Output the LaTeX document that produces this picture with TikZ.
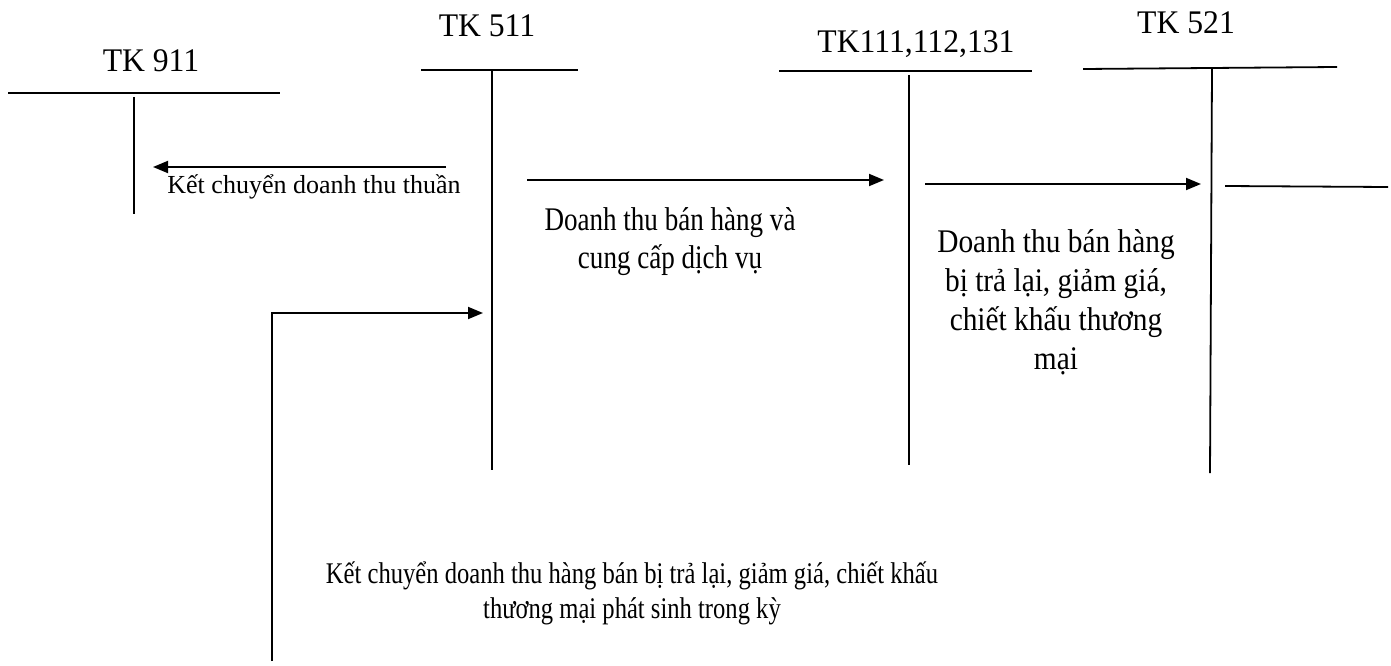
\documentclass[tikz,border=0pt]{standalone}
\usepackage{fontspec}
\usepackage{graphicx}
\setmainfont{Liberation Serif}
\usetikzlibrary{arrows.meta}
\newcommand{\mylines}[4]{{\fontsize{#1}{#2}\selectfont\scalebox{#3}[1]{\begin{tabular}[t]{@{}c@{}}#4\end{tabular}}}}
\tikzset{
  ln/.style={line width=1.8pt},
  arr/.style={line width=1.8pt,-{Triangle[length=15pt,width=12pt]}},
  txt/.style={inner sep=0pt,anchor=base},
}
\begin{document}
\begin{tikzpicture}[x=1pt,y=-1pt]
\useasboundingbox (0,0) rectangle (1391,666);
% TK 911
\node[txt] (t911) at (151,72) {\mylines{33}{39}{0.96}{TK 911}};
\coordinate (h911a) at (8,93); \coordinate (h911b) at (280,93);
\coordinate (v911a) at (134,97); \coordinate (v911b) at (134,214);
\draw[ln] (h911a) -- (h911b); \draw[ln] (v911a) -- (v911b);
% TK 511
\node[txt] (t511) at (487,37) {\mylines{33}{39}{0.96}{TK 511}};
\coordinate (h511a) at (421,70); \coordinate (h511b) at (578,70);
\coordinate (v511a) at (492,70); \coordinate (v511b) at (492,470);
\draw[ln] (h511a) -- (h511b); \draw[ln] (v511a) -- (v511b);
% TK111,112,131
\node[txt] (t111) at (916,53) {\mylines{33}{39}{0.96}{TK111,112,131}};
\coordinate (h111a) at (779,71); \coordinate (h111b) at (1032,71);
\coordinate (v111a) at (909,75); \coordinate (v111b) at (909,465);
\draw[ln] (h111a) -- (h111b); \draw[ln] (v111a) -- (v111b);
% TK 521
\node[txt] (t521) at (1186,34) {\mylines{33}{39}{0.96}{TK 521}};
\coordinate (h521a) at (1083,69); \coordinate (h521b) at (1337,67);
\coordinate (v521a) at (1212,68); \coordinate (v521b) at (1210,473);
\draw[ln] (h521a) -- (h521b); \draw[ln] (v521a) -- (v521b);
% arrow 1
\coordinate (a1s) at (446,167); \coordinate (a1e) at (153,167);
\draw[arr] (a1s) -- (a1e);
\node[txt] (l1) at (314,193) {\mylines{26}{30}{1}{Kết chuyển doanh thu thuần}};
% arrow 2
\coordinate (a2s) at (527,180); \coordinate (a2e) at (884,180);
\draw[arr] (a2s) -- (a2e);
\node[txt] (l2) at (670,230) {\mylines{33}{38}{0.82}{Doanh thu bán hàng và\\cung cấp dịch vụ}};
% arrow 3
\coordinate (a3s) at (925,184); \coordinate (a3e) at (1201,184);
\draw[arr] (a3s) -- (a3e);
\node[txt] (l3) at (1056,252) {\mylines{33}{39}{0.89}{Doanh thu bán hàng\\bị trả lại, giảm giá,\\chiết khấu thương\\mại}};
% line out of TK 521
\coordinate (o1) at (1225,186); \coordinate (o2) at (1388,187);
\draw[ln] (o1) -- (o2);
% arrow 4
\coordinate (a4b) at (272,661); \coordinate (a4c) at (272,313); \coordinate (a4e) at (483,313);
\draw[arr] (a4b) -- (a4c) -- (a4e);
\node[txt] (l4) at (632,583) {\mylines{30}{35}{0.82}{Kết chuyển doanh thu hàng bán bị trả lại, giảm giá, chiết khấu\\thương mại phát sinh trong kỳ}};
\end{tikzpicture}
\end{document}
